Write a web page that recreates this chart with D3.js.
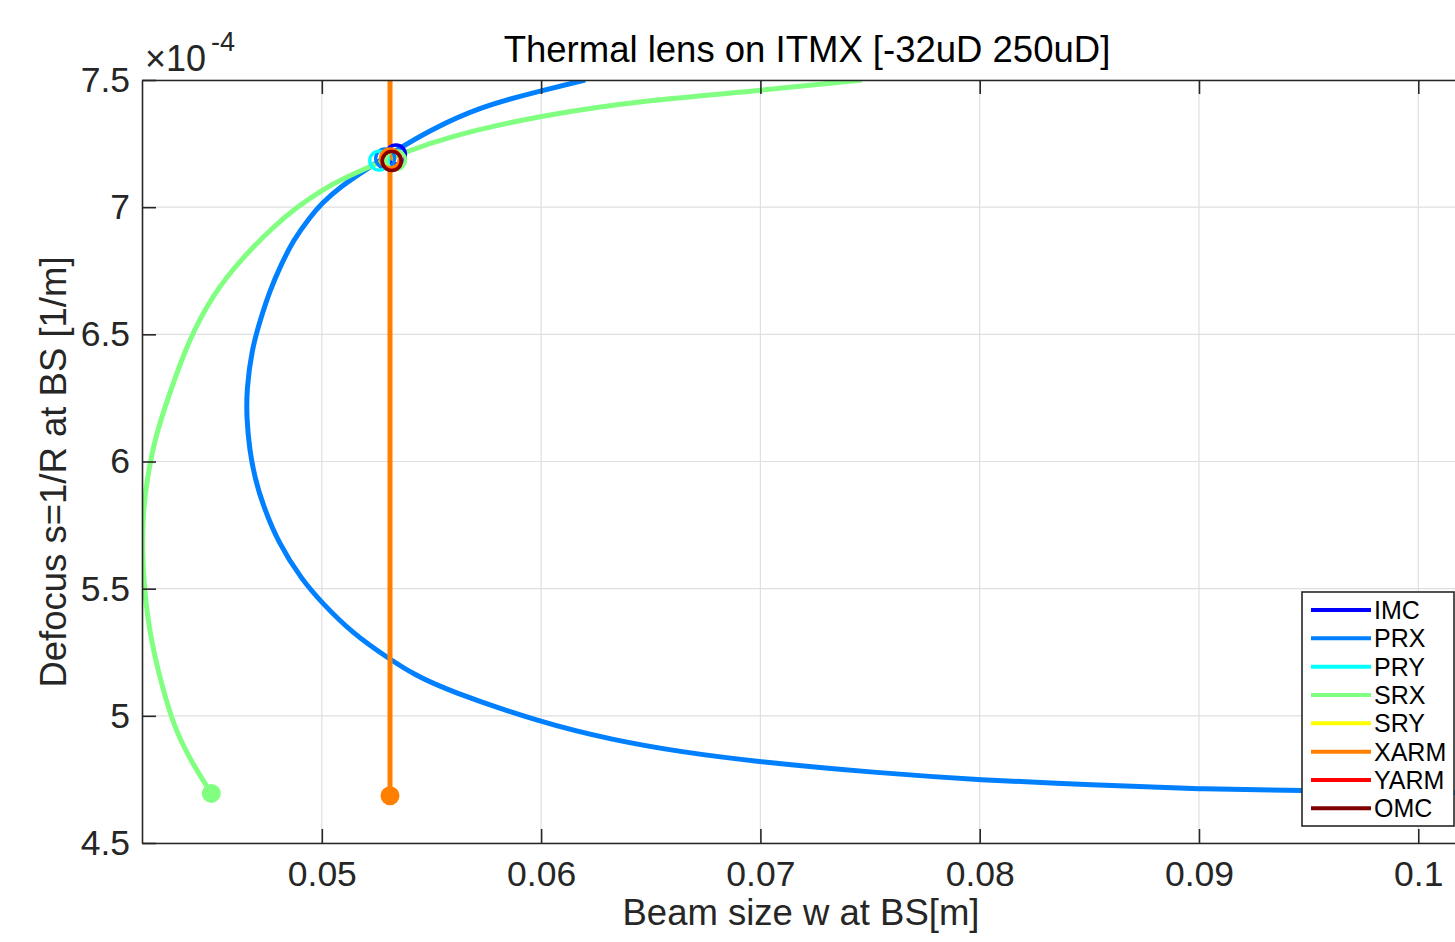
<!DOCTYPE html>
<html><head><meta charset="utf-8">
<script src="https://cdn.jsdelivr.net/npm/d3@7"></script>
<style>
body{margin:0;background:#fff;}
svg{display:block;font-family:"Liberation Sans",Arial,Helvetica,sans-serif;}
</style></head><body>
<svg id="chart" width="1455" height="942"></svg>
<script>
// ---------------- data ----------------
const modeNames = ["IMC","PRX","PRY","SRX","SRY","XARM","YARM","OMC"];
const xTickValues = [0.05,0.06,0.07,0.08,0.09,0.1];
const xTickLabels = ["0.05","0.06","0.07","0.08","0.09","0.1"];
const yTickValues = [4.5,5,5.5,6,6.5,7,7.5];          // in units of 1e-4
const yTickLabels = ["4.5","5","5.5","6","6.5","7","7.5"];

// PRX: beam size [m] vs defocus [1e-4 1/m], from lens start to end
const prxBeam = [0.1040,0.09470,0.09005,0.08517,0.07997,0.07546,0.06999,0.06634,0.06328,0.06000,
                 0.05571,0.05425,0.05302,0.05138,0.05001,0.04910,0.04801,0.04728,0.04695,0.04670,
                 0.04657,0.04657,0.04680,0.04719,0.04764,0.04810,0.04870,0.04947,0.05000,0.05083,
                 0.05220,0.05342,0.05494,0.05722,0.06000,0.06201];
const prxDefocus = [4.696,4.706,4.712,4.728,4.748,4.775,4.818,4.858,4.905,4.973,
                    5.101,5.160,5.227,5.326,5.444,5.534,5.680,5.837,5.935,6.045,
                    6.175,6.281,6.438,6.556,6.674,6.766,6.871,6.962,7.015,7.080,
                    7.159,7.225,7.303,7.395,7.458,7.500];

// SRX
const srxBeam = [0.04496,0.04409,0.04331,0.04272,0.04217,0.04190,0.04181,0.04185,0.04204,0.04240,
                 0.04300,0.04392,0.04507,0.04628,0.04779,0.04886,0.05000,0.05083,0.05235,0.05371,
                 0.05571,0.06000,0.06483,0.06999,0.07462];
const srxDefocus = [4.695,4.814,4.944,5.113,5.310,5.499,5.650,5.809,5.935,6.096,
                    6.254,6.478,6.661,6.792,6.923,7.000,7.067,7.107,7.166,7.213,
                    7.277,7.362,7.421,7.458,7.500];

// XARM
const xarmBeam = [0.05311,0.05311];
const xarmDefocus = [4.686,7.500];

// nominal operating point of every mode (ring markers)
const nominalBeam    = [0.05338,0.05289,0.05262,0.05338,0.05316,0.05311,0.05319,0.05319];
const nominalDefocus = [7.207,7.192,7.183,7.185,7.185,7.192,7.183,7.181];

// ---------------- styles / layout ----------------
const modeColors = ["#0000ff","#0080ff","#00ffff","#80ff80","#ffff00","#ff8000","#ff0000","#800000"];
const W = 1455, H = 942;
const plot = {left:142, top:80, right:1472, bottom:843};
const axisColor = "#262626";

const svg = d3.select("#chart");
const x = d3.scaleLinear().domain([0.0418, 0.10245]).range([plot.left, plot.right]);
const y = d3.scaleLinear().domain([4.5, 7.5]).range([plot.bottom, plot.top]);

svg.append("rect").attr("width",W).attr("height",H).attr("fill","#fff");

// grid
const grid = svg.append("g").attr("stroke","#dfdfdf").attr("stroke-width",1.2);
grid.selectAll("line.gx").data(xTickValues).join("line").attr("class","gx")
  .attr("x1",d=>x(d)).attr("x2",d=>x(d)).attr("y1",plot.top).attr("y2",plot.bottom);
grid.selectAll("line.gy").data(yTickValues).join("line").attr("class","gy")
  .attr("y1",d=>y(d)).attr("y2",d=>y(d)).attr("x1",plot.left).attr("x2",plot.right);

// clip
svg.append("clipPath").attr("id","clip").append("rect")
  .attr("x",plot.left).attr("y",plot.top).attr("width",plot.right-plot.left).attr("height",plot.bottom-plot.top);
const data = svg.append("g").attr("clip-path","url(#clip)");

const line = d3.line().x(d=>x(d[0])).y(d=>y(d[1])).curve(d3.curveBasis);
const series = [
  {name:"PRX", beam:prxBeam, defocus:prxDefocus},
  {name:"SRX", beam:srxBeam, defocus:srxDefocus},
  {name:"XARM", beam:xarmBeam, defocus:xarmDefocus}
];
series.forEach(s=>{
  const col = modeColors[modeNames.indexOf(s.name)];
  const pts = s.beam.map((b,i)=>[b, s.defocus[i]]);
  data.append("path").datum(pts).attr("d",line).attr("fill","none")
    .attr("stroke",col).attr("stroke-width",5).attr("stroke-linejoin","round");
  data.append("circle").attr("cx",x(pts[0][0])).attr("cy",y(pts[0][1])).attr("r",9.5).attr("fill",col);
});

// nominal rings
data.selectAll("circle.nom").data(modeNames).join("circle").attr("class","nom")
  .attr("cx",(d,i)=>x(nominalBeam[i])).attr("cy",(d,i)=>y(nominalDefocus[i]))
  .attr("r",9.5).attr("fill","none").attr("stroke",(d,i)=>modeColors[i]).attr("stroke-width",3.4);

// axes
function styleAxis(g){
  g.select(".domain").attr("stroke",axisColor).attr("stroke-width",1.6);
  g.selectAll(".tick line").attr("stroke",axisColor).attr("stroke-width",1.6);
  g.selectAll(".tick text").attr("fill",axisColor).attr("font-size",35.5)
    .attr("font-family","'Liberation Sans',Arial,Helvetica,sans-serif");
}
svg.append("g").attr("transform",`translate(0,${plot.bottom})`)
  .call(d3.axisBottom(x).tickValues(xTickValues).tickFormat((d,i)=>xTickLabels[i]).tickSize(-14).tickSizeOuter(0).tickPadding(18))
  .call(styleAxis);
svg.append("g").attr("transform",`translate(0,${plot.top})`)
  .call(d3.axisTop(x).tickValues(xTickValues).tickFormat("").tickSize(-14).tickSizeOuter(0))
  .call(styleAxis);
svg.append("g").attr("transform",`translate(${plot.left},0)`)
  .call(d3.axisLeft(y).tickValues(yTickValues).tickFormat((d,i)=>yTickLabels[i]).tickSize(-14).tickSizeOuter(0).tickPadding(12))
  .call(styleAxis);
svg.append("g").attr("transform",`translate(${plot.right},0)`)
  .call(d3.axisRight(y).tickValues(yTickValues).tickFormat("").tickSize(-14).tickSizeOuter(0))
  .call(styleAxis);

// exponent
svg.append("text").attr("x",145).attr("y",71).attr("fill",axisColor).attr("font-size",36)
  .text("×10");
svg.append("text").attr("x",211).attr("y",51).attr("fill",axisColor).attr("font-size",27).text("-4");

// titles
svg.append("text").attr("x",(plot.left+plot.right)/2).attr("y",62).attr("text-anchor","middle")
  .attr("font-size",36.5).attr("fill","#000").text("Thermal lens on ITMX [-32uD 250uD]");
svg.append("text").attr("x",801).attr("y",925).attr("text-anchor","middle")
  .attr("font-size",36.5).attr("fill",axisColor).text("Beam size w at BS[m]");
svg.append("text").attr("transform","translate(66,472) rotate(-90)").attr("text-anchor","middle")
  .attr("font-size",36.5).attr("fill",axisColor).text("Defocus s=1/R at BS [1/m]");

// legend
const lg = {x:1302, y:592, w:152, h:234, row:28.33, first:18};
const leg = svg.append("g");
leg.append("rect").attr("x",lg.x).attr("y",lg.y).attr("width",lg.w).attr("height",lg.h)
  .attr("fill","#fff").attr("stroke",axisColor).attr("stroke-width",1.6);
const rows = leg.selectAll("g.row").data(modeNames).join("g").attr("class","row")
  .attr("transform",(d,i)=>`translate(${lg.x},${lg.y+lg.first+i*lg.row})`);
rows.append("line").attr("x1",9).attr("x2",69).attr("y1",0).attr("y2",0)
  .attr("stroke",(d,i)=>modeColors[i]).attr("stroke-width",4);
rows.append("text").attr("x",72).attr("y",9).attr("font-size",25).attr("fill","#000").text(d=>d);
</script>
</body></html>
